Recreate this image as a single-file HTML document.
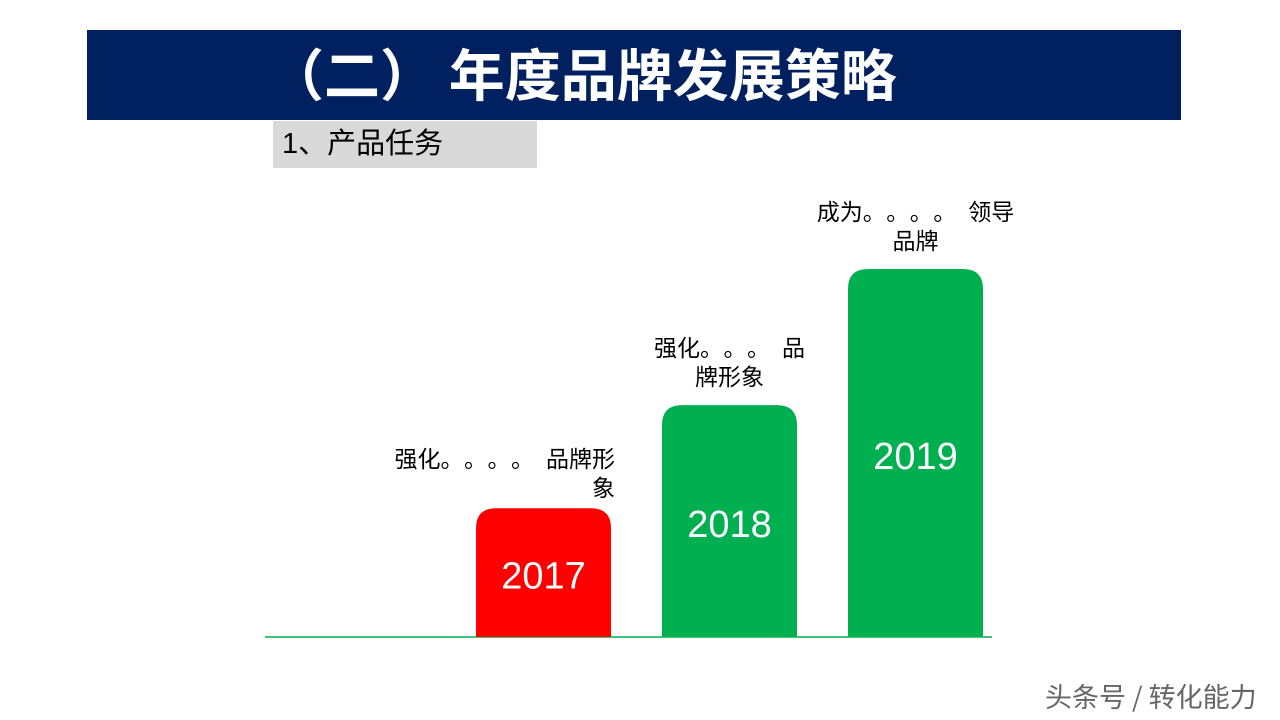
<!DOCTYPE html>
<html><head><meta charset="utf-8">
<style>
html,body{margin:0;padding:0;}
body{width:1280px;height:720px;background:#fff;position:relative;overflow:hidden;font-family:"Liberation Sans","Noto Sans CJK SC",sans-serif;}
.abs{position:absolute;}
</style></head><body>
<div class="abs" style="left:87px;top:30px;width:1094px;height:90px;background:#002060;"></div>
<div class="abs" style="left:268px;top:38px;height:70px;line-height:70px;color:#fff;font-size:56px;font-weight:bold;white-space:nowrap;font-family:'Noto Sans CJK SC',sans-serif;">（二） 年度品牌发展策略</div>
<div class="abs" style="left:273px;top:121px;width:264px;height:47px;background:#d9d9d9;"></div>
<div class="abs" style="left:282px;top:121px;height:47px;line-height:47px;font-size:29px;color:#000;white-space:nowrap;">1、产品任务</div>
<svg class="abs" id="chart" style="left:0;top:0" width="1280" height="720"></svg>
<div class="abs" style="left:1045px;top:676px;font-size:27px;color:#666;white-space:nowrap;font-family:'Noto Sans CJK SC',sans-serif;">头条号 / 转化能力</div>
<script>
const categories = ["2017","2018","2019"];
const values = [35, 63, 100];
const colors = ["#ff0000","#00b050","#00b050"];
const notes = [["强化。。。。品牌形","象"],["强化。。。品","牌形象"],["成为。。。。领导","品牌"]];
const svg = document.getElementById('chart');
const NS = "http://www.w3.org/2000/svg";
const baseY = 637, maxV = 100, plotH = 368;
const xStart = 476, step = 186, barW = 135;
function yScale(v){ return baseY - v / maxV * plotH; }
function xScale(i){ return xStart + i * step; }
const axis = document.createElementNS(NS,'line');
axis.setAttribute('x1',265);axis.setAttribute('x2',992);axis.setAttribute('y1',baseY);axis.setAttribute('y2',baseY);
axis.setAttribute('stroke','#00b050');axis.setAttribute('stroke-width','1.5');


svg.appendChild(axis);
categories.forEach((c,i)=>{
  const x = xScale(i), y = yScale(values[i]), h = baseY - y, r = 20;
  const p = document.createElementNS(NS,'path');
  p.setAttribute('d',`M${x},${baseY} L${x},${y+r} Q${x},${y} ${x+r},${y} L${x+barW-r},${y} Q${x+barW},${y} ${x+barW},${y+r} L${x+barW},${baseY} Z`);
  p.setAttribute('fill',colors[i]);
  
  
  svg.appendChild(p);
  const t = document.createElementNS(NS,'text');
  t.setAttribute('x', x + barW/2); t.setAttribute('y', y + h/2 + 16);
  t.setAttribute('text-anchor','middle'); t.setAttribute('fill','#fff'); t.setAttribute('font-size','38');
  t.setAttribute('font-family','Liberation Sans, sans-serif');
  t.textContent = c;
  
  
  svg.appendChild(t);
  const lines = notes[i];
  const anchor = i===0 ? 'end' : 'middle';
  const ax = i===0 ? x + barW + 4 : x + barW/2;
  lines.forEach((ln,j)=>{
    const n = document.createElementNS(NS,'text');
    n.setAttribute('x', ax); n.setAttribute('y', y - 49 + j*29 + (i===0?8:0));
    n.setAttribute('text-anchor', anchor); n.setAttribute('font-size','23'); n.setAttribute('fill','#000');
    n.setAttribute('font-family','Noto Sans CJK SC, sans-serif');
    const chars = Array.from(ln);
    chars.forEach((ch,k)=>{
      const s = document.createElementNS(NS,'tspan');
      if (k>0 && chars[k-1]==='。') s.setAttribute('dx','12');
      s.textContent = ch;
      n.appendChild(s);
    });
    
    
    svg.appendChild(n);
  });
});
</script>
</body></html>
